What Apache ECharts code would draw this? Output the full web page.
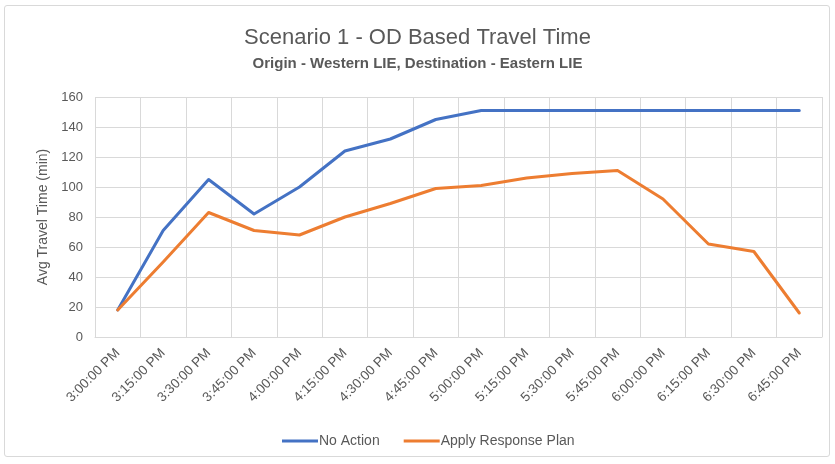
<!DOCTYPE html>
<html>
<head>
<meta charset="utf-8">
<title>Scenario 1 - OD Based Travel Time</title>
<script src="https://cdn.jsdelivr.net/npm/echarts@6/dist/echarts.min.js"></script>
<style>
    html, body {margin: 0; padding: 0; background: #fff;}
    #frame {position: absolute; left: 4px; top: 5px; width: 826px; height: 452px;
        border: 1px solid #d9d9d9; border-radius: 3px; box-sizing: border-box;}
    #chart {position: absolute; left: 0; top: 0; width: 835px; height: 464px;}
</style>
</head>
<body>
<div id="frame"></div>
<div id="chart"></div>
<script>
// time slots
const times = ['3:00:00 PM', '3:15:00 PM', '3:30:00 PM', '3:45:00 PM', '4:00:00 PM', '4:15:00 PM',
    '4:30:00 PM', '4:45:00 PM', '5:00:00 PM', '5:15:00 PM', '5:30:00 PM', '5:45:00 PM',
    '6:00:00 PM', '6:15:00 PM', '6:30:00 PM', '6:45:00 PM'];
// avg travel time (min)
const noAction = [18, 71, 105, 82, 100, 124, 132, 145, 151, 151, 151, 151, 151, 151, 151, 151];
const responsePlan = [18, 50, 83, 71, 68, 80, 89, 99, 101, 106, 109, 111, 92, 62, 57, 16];

const font = "'Open Sans', 'Liberation Sans', sans-serif";
const grey = '#595959';

const myChart = echarts.init(document.getElementById('chart'));
const option = {
    animation: false,
    textStyle: {fontFamily: font},
    title: {
        text: 'Scenario 1 - OD Based Travel Time',
        subtext: 'Origin - Western LIE, Destination - Eastern LIE',
        left: 'center',
        top: 22,
        itemGap: 7,
        textStyle: {fontFamily: "'Liberation Sans', sans-serif", fontSize: 22, fontWeight: 'normal', color: grey},
        subtextStyle: {fontFamily: "'Liberation Sans', sans-serif", fontSize: 15, fontWeight: 'bold', color: grey},
    },
    legend: {
        bottom: 11,
        left: 277,
        itemWidth: 36,
        itemHeight: 3,
        itemGap: 24,
        icon: 'rect',
        textStyle: {fontFamily: "'Liberation Sans', sans-serif", fontSize: 14, color: grey, padding: [0, 0, 0, -4]},
        data: ['No Action', 'Apply Response Plan'],
    },
    grid: {left: 95, right: 13, top: 97, bottom: 127},
    xAxis: {
        type: 'category',
        data: times,
        boundaryGap: true,
        axisLine: {lineStyle: {color: '#d9d9d9'}},
        axisTick: {show: false},
        splitLine: {show: true, lineStyle: {color: '#d9d9d9'}},
        axisLabel: {rotate: 45, color: grey, fontSize: 13.5, fontFamily: "'Liberation Sans', sans-serif", margin: 14, interval: 0},
    },
    yAxis: {
        type: 'value',
        min: 0,
        max: 160,
        interval: 20,
        name: 'Avg Travel Time (min)',
        nameLocation: 'middle',
        nameGap: 42,
        nameTextStyle: {color: grey, fontSize: 14, fontFamily: "'Liberation Sans', sans-serif"},
        axisLine: {show: false},
        axisTick: {show: false},
        splitLine: {lineStyle: {color: '#d9d9d9'}},
        axisLabel: {color: grey, fontSize: 13, fontFamily: "'Liberation Sans', sans-serif", margin: 12},
    },
    series: [
        {
            name: 'No Action',
            type: 'line',
            data: noAction,
            symbol: 'none',
            color: '#4472C4',
            lineStyle: {width: 3, join: 'round', cap: 'round'},
        },
        {
            name: 'Apply Response Plan',
            type: 'line',
            data: responsePlan,
            symbol: 'none',
            color: '#ED7D31',
            lineStyle: {width: 3, join: 'round', cap: 'round'},
        },
    ],
};
myChart.setOption(option);
</script>
</body>
</html>
